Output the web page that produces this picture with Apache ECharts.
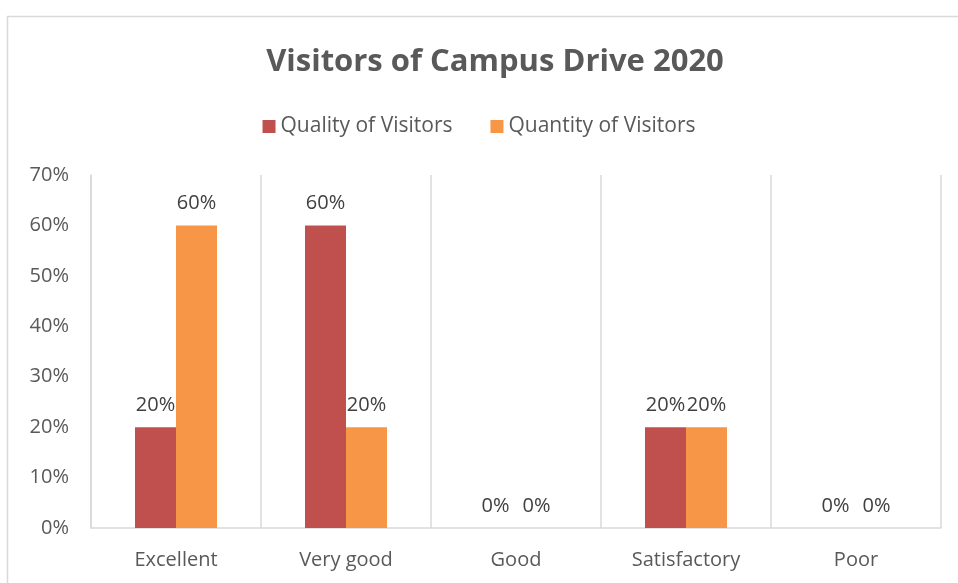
<!DOCTYPE html>
<html>
<head>
<meta charset="utf-8">
<script src="https://cdn.jsdelivr.net/npm/echarts@6/dist/echarts.min.js"></script>
<style>
  html, body { margin: 0; padding: 0; background: #fff; }
  #main { width: 958px; height: 583px; }
</style>
</head>
<body>
<div id="main"></div>
<script>
// chart data
const categories = ['Excellent', 'Very good', 'Good', 'Satisfactory', 'Poor']
const qualityValues = [20, 60, 0, 20, 0]
const quantityValues = [60, 20, 0, 20, 0]
const seriesNames = ['Quality of Visitors', 'Quantity of Visitors']

const font = 'Open Sans, Liberation Sans, sans-serif'
const myChart = echarts.init(document.getElementById('main'))

const labelStyle = {
  show: true,
  position: 'top',
  distance: 12,
  color: '#404040',
  fontSize: 20,
  fontFamily: font,
  formatter: '{c}%'
}

const option = {
  backgroundColor: '#fff',
  animation: false,
  graphic: [{
    type: 'rect',
    left: 5,
    top: 14,
    shape: { width: 970, height: 600 },
    style: { fill: 'none', stroke: '#d9d9d9', lineWidth: 1.5 },
    silent: true
  }],
  title: {
    text: 'Visitors of Campus Drive 2020',
    left: 490,
    textAlign: 'center',
    top: 42,
    textStyle: {
      color: '#595959',
      fontSize: 31,
      fontWeight: 'bold',
      fontFamily: font
    }
  },
  legend: {
    data: seriesNames,
    left: 'center',
    top: 111,
    itemWidth: 13,
    itemHeight: 13,
    itemGap: 38,
    icon: 'rect',
    textStyle: { color: '#595959', fontSize: 21, fontFamily: font }
  },
  grid: {
    left: 91,
    right: 17,
    top: 175,
    bottom: 55
  },
  xAxis: {
    type: 'category',
    data: categories,
    axisLine: { lineStyle: { color: '#d9d9d9', width: 1.5 } },
    axisTick: { show: false },
    splitLine: { show: true, lineStyle: { color: '#d9d9d9', width: 1.5 } },
    axisLabel: { color: '#595959', fontSize: 20, fontFamily: font, margin: 22 }
  },
  yAxis: {
    type: 'value',
    min: 0,
    max: 70,
    interval: 10,
    axisLine: { show: true, lineStyle: { color: '#d9d9d9', width: 1.5 } },
    axisTick: { show: false },
    splitLine: { show: false },
    axisLabel: {
      color: '#595959',
      fontSize: 20,
      fontFamily: font,
      margin: 22,
      formatter: '{value}%'
    }
  },
  series: [
    {
      name: seriesNames[0],
      type: 'bar',
      data: qualityValues,
      barWidth: 41,
      barGap: '0%',
      itemStyle: { color: '#C0504D' },
      label: labelStyle
    },
    {
      name: seriesNames[1],
      type: 'bar',
      data: quantityValues,
      barWidth: 41,
      barGap: '0%',
      itemStyle: { color: '#F79646' },
      label: labelStyle
    }
  ]
}

myChart.setOption(option)
</script>
</body>
</html>
